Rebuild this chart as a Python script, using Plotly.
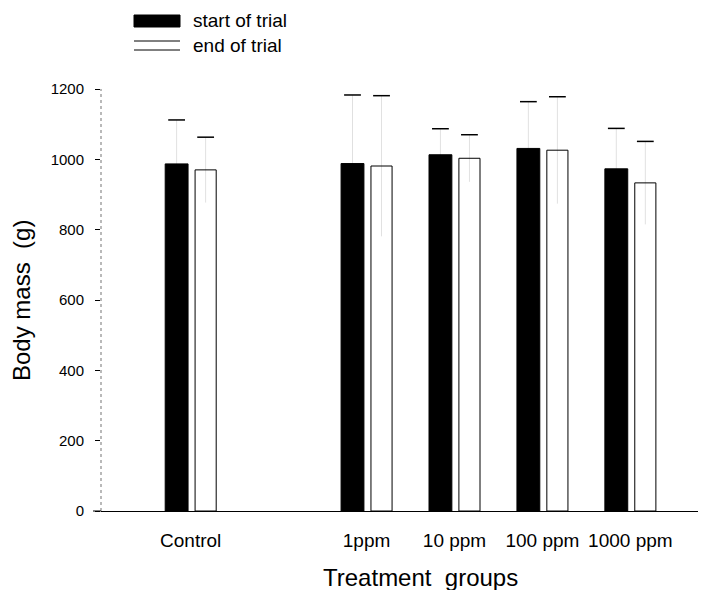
import plotly.graph_objects as go

# ---- data ----
groups = ["Control", "1ppm", "10 ppm", "100 ppm", "1000 ppm"]
group_pos = [0, 2, 3, 4, 5]          # one empty slot after Control
start_mass = [987, 988, 1013, 1031, 973]
end_mass = [970, 981, 1003, 1026, 933]
start_err = [125, 195, 74, 133, 115]
end_err = [93, 200, 67, 152, 118]
y_ticks = [0, 200, 400, 600, 800, 1000, 1200]

# ---- style/layout constants ----
W_START, OFF_START = 0.26, -0.29
W_END, OFF_END = 0.24, 0.05
FONT = "Liberation Sans, Arial, sans-serif"

c_start = [p + OFF_START + W_START / 2 for p in group_pos]
c_end = [p + OFF_END + W_END / 2 for p in group_pos]

fig = go.Figure()
fig.add_trace(go.Bar(
    x=group_pos, y=start_mass, width=W_START, offset=OFF_START,
    marker=dict(color="black", line=dict(color="black", width=1)),
    error_y=dict(type="data", array=start_err, visible=True,
                 color="rgba(0,0,0,0.12)", thickness=1, width=0),
    name="start of trial", showlegend=False))
fig.add_trace(go.Bar(
    x=group_pos, y=end_mass, width=W_END, offset=OFF_END,
    marker=dict(color="white", line=dict(color="black", width=1)),
    error_y=dict(type="data", array=end_err, visible=True,
                 color="rgba(0,0,0,0.12)", thickness=1, width=0),
    name="end of trial", showlegend=False))
# error caps
fig.add_trace(go.Scatter(
    x=c_start, y=[v + e for v, e in zip(start_mass, start_err)], mode="markers",
    marker=dict(symbol="line-ew", size=12, line=dict(color="black", width=1.5)),
    showlegend=False, hoverinfo="skip"))
fig.add_trace(go.Scatter(
    x=c_end, y=[v + e for v, e in zip(end_mass, end_err)], mode="markers",
    marker=dict(symbol="line-ew", size=12, line=dict(color="black", width=1.5)),
    showlegend=False, hoverinfo="skip"))

# page has an 8px body margin: figure is placed at (8, 8)
OFS = 8
PAGE_W, PAGE_H = 706, 590
Wd, Ht = PAGE_W - OFS, PAGE_H - OFS
L, R, T, B = 101 - OFS, 0, 89 - OFS, 79
pw, ph = Wd - L - R, Ht - T - B

def px(x):  # page pixel -> paper x
    return (x - OFS - L) / pw

def py(y):  # page pixel -> paper y
    return (Ht - B - (y - OFS)) / ph

shapes = [
    # dotted y axis line
    dict(type="line", xref="paper", yref="paper", x0=0, x1=0, y0=0, y1=1,
         line=dict(color="rgba(0,0,0,0.55)", width=1, dash="dot")),
    # baseline stub left of the y axis
    dict(type="line", xref="paper", yref="paper", x0=px(93), x1=0, y0=0, y1=0,
         line=dict(color="black", width=1)),
    # legend swatches
    dict(type="rect", xref="paper", yref="paper", x0=px(134), x1=px(180),
         y0=py(27), y1=py(15), fillcolor="black", line=dict(color="black", width=1)),
    dict(type="line", xref="paper", yref="paper", x0=px(134), x1=px(180),
         y0=py(41), y1=py(41), line=dict(color="black", width=1)),
    dict(type="line", xref="paper", yref="paper", x0=px(134), x1=px(180),
         y0=py(50), y1=py(50), line=dict(color="black", width=1)),
]
annotations = [
    dict(text="start of trial", xref="paper", yref="paper", x=px(191), y=py(21),
         xanchor="left", yanchor="middle", showarrow=False,
         font=dict(size=19, color="black", family=FONT)),
    dict(text="end of trial", xref="paper", yref="paper", x=px(191), y=py(46),
         xanchor="left", yanchor="middle", showarrow=False,
         font=dict(size=19, color="black", family=FONT)),
    dict(text="Treatment  groups", xref="paper", yref="paper", x=px(420), y=py(577),
         xanchor="center", yanchor="middle", showarrow=False,
         font=dict(size=24, color="black", family=FONT)),
    dict(text="Body mass  (g)", xref="paper", yref="paper", x=px(21), y=py(301),
         xanchor="center", yanchor="middle", textangle=-90, showarrow=False,
         font=dict(size=24, color="black", family=FONT)),
]

fig.update_layout(
    width=Wd, height=Ht,
    margin=dict(l=L, r=R, t=T, b=B),
    paper_bgcolor="white", plot_bgcolor="white",
    font=dict(family=FONT, color="black"),
    shapes=shapes, annotations=annotations,
    xaxis=dict(range=[-1.02, 5.86], tickmode="array", tickvals=group_pos,
               ticktext=groups, showgrid=False, zeroline=False,
               showline=True, linecolor="black", linewidth=1, ticks="",
               ticklabelstandoff=12, tickfont=dict(size=19)),
    yaxis=dict(range=[0, 1200], tickmode="array", tickvals=y_ticks,
               showgrid=False, zeroline=False, showline=False,
               ticks="outside", ticklen=5, tickcolor="black",
               ticklabelstandoff=8, tickfont=dict(size=15)),
)

fig.write_html("out.html")
